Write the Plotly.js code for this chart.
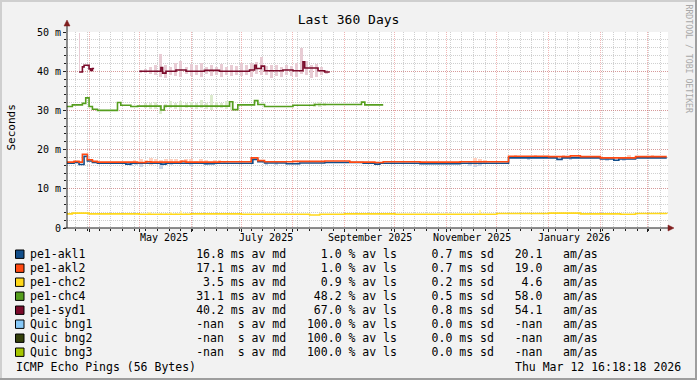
<!DOCTYPE html>
<html><head><meta charset="utf-8">
<script src="https://cdn.plot.ly/plotly-3.0.1.min.js"></script>
<style>html,body{margin:0;padding:0;background:#F2F2F2;}#chart{width:697px;height:380px;}</style>
</head><body><div id="chart"></div>
<script>
// ---------------- DATA ----------------
const akl1Dates = ['2025-03-18','2025-03-23','2025-03-26','2025-03-29','2025-03-31','2025-04-03','2025-04-06','2025-04-23','2025-04-26','2025-05-14','2025-05-17','2025-06-09','2025-06-15','2025-07-08','2025-07-11','2025-07-15','2025-07-28','2025-08-05','2025-08-20','2025-09-12','2025-09-19','2025-09-22','2025-10-16','2025-11-09','2025-12-08','2026-01-06','2026-01-09','2026-02-01','2026-02-09','2026-02-12','2026-02-22','2026-03-12 16:00'];
const akl1Vals  = [16.5,16.7,16.2,18.3,17.1,16.7,16.5,16.3,16.5,16.3,16.5,16.4,16.5,17.5,16.9,16.6,16.4,16.6,16.7,16.5,16.3,16.5,16.4,16.5,17.9,17.5,17.9,17.6,17.3,17.6,17.9,17.9];

const akl2Dates = ['2025-03-18','2025-03-23','2025-03-26','2025-03-28','2025-03-31','2025-04-03','2025-04-06','2025-04-30','2025-05-05','2025-05-08','2025-05-26','2025-05-29','2025-06-18','2025-07-07','2025-07-11','2025-07-15','2025-08-01','2025-08-20','2025-09-04','2025-09-19','2025-09-24','2025-10-16','2025-11-09','2025-12-08','2026-01-01','2026-01-14','2026-01-20','2026-02-01','2026-02-22','2026-03-12 16:00'];
const akl2Vals  = [16.8,17.0,16.8,18.8,17.4,17.0,16.8,16.7,16.9,16.8,17.0,16.8,16.9,17.9,17.2,16.9,17.0,17.1,16.8,16.7,16.9,16.8,16.9,18.3,18.2,18.4,18.2,17.9,18.2,18.2];

const chc2Dates = ['2025-03-18','2025-03-22','2025-04-01','2025-05-01','2025-06-01','2025-07-01','2025-08-11','2025-08-17','2025-09-01','2025-10-01','2025-11-01','2025-12-01','2026-01-01','2026-01-20','2026-02-13','2026-02-22','2026-03-12 16:00'];
const chc2Vals  = [3.6,3.8,3.6,3.5,3.6,3.5,3.3,3.5,3.6,3.5,3.5,3.7,3.8,3.6,3.5,3.7,3.6];

const chc4Dates = ['2025-03-18','2025-03-22','2025-03-28','2025-03-30','2025-04-01','2025-04-03','2025-04-06','2025-04-18','2025-04-20','2025-04-26','2025-04-30','2025-05-14','2025-05-16','2025-06-24','2025-06-26','2025-06-29','2025-07-09','2025-07-11','2025-07-15','2025-08-01','2025-08-14','2025-09-11','2025-09-13','2025-09-24'];
const chc4Vals  = [31.0,31.4,31.8,33.2,31.0,30.3,30.0,32.0,31.3,31.0,31.1,30.1,31.1,32.2,30.2,31.4,32.5,31.5,31.0,31.3,31.5,32.1,31.4,31.4];

const syd1Dates = ['2025-03-26','2025-03-28','2025-03-29','2025-04-01','2025-04-02','2025-04-03','2025-04-04','2025-04-15','2025-05-01','2025-05-14','2025-05-15','2025-05-17','2025-05-23','2025-05-29','2025-06-09','2025-06-18','2025-07-06','2025-07-09','2025-07-10','2025-07-13','2025-07-15','2025-07-26','2025-08-01','2025-08-07','2025-08-08','2025-08-16','2025-08-20','2025-08-23'];
const syd1Vals  = [39.8,41.1,41.5,40.6,40.2,40.7,40.7,null,40.0,40.9,39.5,40.0,40.3,40.0,40.2,40.0,40.3,41.5,40.7,41.3,40.1,40.3,40.1,42.4,40.8,40.1,39.8,39.8];

// smoke (spread) ranges
const syd1SmokeDates = ['2025-05-02','2025-05-05','2025-05-08','2025-05-11','2025-05-14','2025-05-17','2025-05-20','2025-05-23','2025-05-26','2025-05-29','2025-06-01','2025-06-04','2025-06-07','2025-06-10','2025-06-13','2025-06-16','2025-06-19','2025-06-22','2025-06-25','2025-06-28','2025-07-01','2025-07-04','2025-07-07','2025-07-10','2025-07-13','2025-07-16','2025-07-19','2025-07-22','2025-07-25','2025-07-28','2025-07-31','2025-08-03','2025-08-06','2025-08-09','2025-08-12','2025-08-15','2025-08-18','2025-08-21'];
const syd1SmokeLo = [39.6,39.5,39.2,39.0,38.6,38.3,39.0,38.8,38.5,39.2,38.8,39.0,38.5,39.2,38.8,39.0,38.6,39.1,38.7,39.0,38.8,39.0,38.6,39.4,39.0,39.0,38.3,38.9,38.5,39.0,38.8,38.4,39.2,39.0,38.2,38.6,39.0,39.4];
const syd1SmokeHi = [40.4,40.6,41.0,41.5,44.4,41.5,41.2,42.0,42.5,41.0,41.8,41.5,42.0,41.0,41.6,41.2,41.8,41.0,41.5,41.3,42.2,41.5,42.0,42.4,43.5,41.4,41.6,41.5,41.2,41.6,41.3,42.0,45.8,42.5,41.5,41.8,41.2,40.4];
const syd1SpikeDates = ['2025-03-26'];
const syd1SpikeLo = [39.8];
const syd1SpikeHi = [49.7];

const chc4SmokeDates = ['2025-05-05','2025-05-08','2025-05-11','2025-05-14','2025-05-17','2025-05-20','2025-05-23','2025-05-26','2025-05-29','2025-06-01','2025-06-04','2025-06-07','2025-06-10','2025-06-13','2025-06-16','2025-06-19','2025-06-22','2025-06-25','2025-08-14','2025-08-17','2025-08-20'];
const chc4SmokeLo = [30.5,30.3,30.4,29.0,30.5,30.6,30.4,30.2,30.6,30.5,30.3,30.6,30.4,30.2,30.5,30.6,30.4,30.0,30.9,30.8,31.0];
const chc4SmokeHi = [31.8,32.0,32.2,31.5,31.7,32.4,32.0,32.5,31.8,32.2,31.9,32.6,32.0,34.0,32.2,31.8,32.3,32.5,32.0,32.2,31.9];

const akl1SmokeDates = ['2025-04-26','2025-04-29','2025-05-02','2025-05-08','2025-05-14','2025-05-20','2025-06-01','2025-06-10','2025-07-16','2025-07-22','2025-11-15','2025-11-18','2025-11-21','2025-12-20','2026-01-14','2026-02-05','2026-02-15'];
const akl1SmokeLo = [15.9,16.0,15.6,16.0,15.1,16.0,15.8,16.0,16.0,16.1,15.8,15.6,15.9,17.3,17.3,17.0,17.0];
const akl1SmokeHi = [16.9,16.8,17.0,16.9,17.1,16.9,16.9,16.8,17.0,16.9,17.0,17.2,17.0,18.2,18.2,18.0,18.0];

const akl2SmokeDates = ['2025-04-28','2025-05-02','2025-05-05','2025-05-08','2025-05-11','2025-05-14','2025-05-17','2025-05-20','2025-05-23','2025-05-26','2025-05-29','2025-06-01','2025-06-04','2025-06-07','2025-06-10','2025-06-15','2025-06-18','2025-06-21','2025-11-18','2025-11-21','2025-11-24','2025-12-12','2025-12-24','2026-01-10','2026-02-18','2026-03-04'];
const akl2SmokeLo = [16.4,16.3,16.5,16.2,16.4,16.3,16.2,16.5,16.4,16.3,16.5,16.3,16.5,16.4,16.5,16.6,16.5,16.6,16.2,16.4,16.5,17.8,17.8,17.9,17.6,17.8];
const akl2SmokeHi = [17.4,17.6,17.3,17.8,17.6,17.4,17.7,17.5,17.6,17.3,17.5,17.6,17.2,17.5,17.3,17.3,17.4,17.2,17.8,17.6,17.3,18.6,18.7,18.6,18.5,18.5];

const chc2SmokeDates = ['2025-05-07','2025-05-14','2025-05-17','2025-05-20','2025-05-23','2025-05-26','2025-05-29','2025-11-21'];
const chc2SmokeLo = [3.2,3.2,3.3,3.2,3.3,3.2,3.3,3.3];
const chc2SmokeHi = [4.0,3.9,3.8,4.1,3.8,4.3,3.9,4.6];

// axis labels
const yTickVals = [0,10,20,30,40,50];
const yTickText = ['0','10 m','20 m','30 m','40 m','50 m'];
const monthLabelDates = ['2025-05-16','2025-07-16','2025-09-16','2025-11-16','2026-01-16'];
const monthLabels = ['May 2025','July 2025','September 2025','November 2025','January 2026'];

// legend table
const legendNames  = ['pe1-akl1','pe1-akl2','pe1-chc2','pe1-chc4','pe1-syd1','Quic bng1','Quic bng2','Quic bng3'];
const legendColors = ['#124E8A','#FF4A12','#FFD81A','#559E1E','#7A0A2A','#86C8F8','#34400A','#A6C600'];
const legendMedian = ['16.8','17.1','3.5','31.1','40.2','-nan','-nan','-nan'];
const legendUnit   = ['ms','ms','ms','ms','ms','s','s','s'];
const legendLoss   = ['1.0','1.0','0.9','48.2','67.0','100.0','100.0','100.0'];
const legendSd     = ['0.7','0.7','0.2','0.5','0.8','0.0','0.0','0.0'];
const legendAmas   = ['20.1','19.0','4.6','58.0','54.1','-nan','-nan','-nan'];

// ---------------- STYLE / LAYOUT ----------------
const FONT = '"DejaVu Sans Mono", monospace';
const L = 67, R = 668, T = 32, B = 228;
const px = x => (x - L) / (R - L);
const py = y => (B - y) / (B - T);
const DAY = 86400000;

const smokeColors = {akl1:'#C9D5E6', akl2:'#FFD3C2', chc2:'#FFF2B0', chc4:'#DDEBCF', syd1:'#E8CCD4'};

function smoke(dates, lo, hi, color, wDays) {
  return {type:'bar', x:dates, base:lo, y:hi.map((h,i)=>h-lo[i]), width:wDays*DAY,
    marker:{color:color, line:{width:0}}, hoverinfo:'skip', showlegend:false};
}
function line(dates, vals, color) {
  return {type:'scatter', mode:'lines', x:dates, y:vals, connectgaps:false,
    line:{color:color, width:1.6, shape:'hv'}, hoverinfo:'skip', showlegend:false};
}

const traces = [
  smoke(syd1SmokeDates, syd1SmokeLo, syd1SmokeHi, smokeColors.syd1, 1.8),
  smoke(syd1SpikeDates, syd1SpikeLo, syd1SpikeHi, smokeColors.syd1, 0.6),
  smoke(chc4SmokeDates, chc4SmokeLo, chc4SmokeHi, smokeColors.chc4, 1.8),
  smoke(akl1SmokeDates, akl1SmokeLo, akl1SmokeHi, smokeColors.akl1, 2.0),
  smoke(akl2SmokeDates, akl2SmokeLo, akl2SmokeHi, smokeColors.akl2, 2.0),
  smoke(chc2SmokeDates, chc2SmokeLo, chc2SmokeHi, smokeColors.chc2, 1.6),
  line(chc2Dates, chc2Vals, legendColors[2]),
  line(chc4Dates, chc4Vals, legendColors[3]),
  line(syd1Dates, syd1Vals, legendColors[4]),
  line(akl1Dates, akl1Vals, legendColors[0]),
  line(akl2Dates, akl2Vals, legendColors[1])
];

const GRID = 'rgba(143,143,143,0.42)';
const MGRID = 'rgba(222,79,79,0.42)';
const AXIS = '#1F1F1F';
const ARROW = '#801F1F';

const shapes = [];
shapes.push({type:'line', xref:'paper', yref:'paper', x0:px(67), x1:px(67), y0:py(228), y1:py(25), line:{color:AXIS, width:1}});
shapes.push({type:'line', xref:'paper', yref:'paper', x0:px(64), x1:px(670), y0:py(228), y1:py(228), line:{color:AXIS, width:1}});
shapes.push({type:'path', xref:'paper', yref:'paper', path:`M ${px(64)} ${py(26)} L ${px(70)} ${py(26)} L ${px(67)} ${py(20)} Z`, fillcolor:ARROW, line:{color:ARROW, width:0.5}});
shapes.push({type:'path', xref:'paper', yref:'paper', path:`M ${px(668)} ${py(225)} L ${px(668)} ${py(231)} L ${px(674)} ${py(228)} Z`, fillcolor:ARROW, line:{color:ARROW, width:0.5}});
shapes.push({type:'rect', xref:'paper', yref:'paper', x0:px(0), x1:px(697), y0:py(0), y1:py(2), fillcolor:'#CFCFCF', line:{width:0}});
shapes.push({type:'rect', xref:'paper', yref:'paper', x0:px(0), x1:px(2), y0:py(0), y1:py(380), fillcolor:'#CFCFCF', line:{width:0}});
shapes.push({type:'rect', xref:'paper', yref:'paper', x0:px(0), x1:px(697), y0:py(378), y1:py(380), fillcolor:'#9E9E9E', line:{width:0}});
shapes.push({type:'rect', xref:'paper', yref:'paper', x0:px(695), x1:px(697), y0:py(0), y1:py(380), fillcolor:'#9E9E9E', line:{width:0}});

const annotations = [];
monthLabelDates.forEach((d,i) => annotations.push({xref:'x', yref:'paper', x:d, y:py(237.5), text:monthLabels[i],
  showarrow:false, xanchor:'center', yanchor:'middle', font:{family:FONT, size:10, color:'#000'}}));
annotations.push({xref:'paper', yref:'paper', x:px(10.5), y:py(128), text:'Seconds', textangle:-90, showarrow:false,
  xanchor:'center', yanchor:'middle', font:{family:FONT, size:11, color:'#000'}});
annotations.push({xref:'paper', yref:'paper', x:px(688.5), y:py(59), text:'RRDTOOL / TOBI OETIKER', textangle:90, showarrow:false,
  xanchor:'center', yanchor:'middle', font:{family:FONT, size:8.2, color:'#A8A8A8'}});

const nb = s => s.replace(/ /g, '\u00A0');
legendNames.forEach((n,i) => {
  const rowY = 254.2 + 14.0*i;
  const row = n.padEnd(24) + legendMedian[i].padStart(4) + ' ' + legendUnit[i].padStart(2) + ' av md' +
    legendLoss[i].padStart(8) + ' % av ls' + legendSd[i].padStart(8) + ' ms sd' + legendAmas[i].padStart(7) + '   am/as';
  annotations.push({xref:'paper', yref:'paper', x:px(28), y:py(rowY), text:nb(row), showarrow:false,
    xanchor:'left', yanchor:'middle', font:{family:FONT, size:11.5, color:'#000'}});
  shapes.push({type:'rect', xref:'paper', yref:'paper', x0:px(15.5), x1:px(24), y0:py(rowY-4.2), y1:py(rowY+4.2),
    fillcolor:legendColors[i], line:{color:'#000', width:1}});
});
annotations.push({xref:'paper', yref:'paper', x:px(14), y:py(366.6), text:nb('ICMP Echo Pings (56 Bytes)'), showarrow:false,
  xanchor:'left', yanchor:'middle', font:{family:FONT, size:11.5, color:'#000'}});
annotations.push({xref:'paper', yref:'paper', x:px(683), y:py(366.6), text:nb('Thu Mar 12 16:18:18 2026'), showarrow:false,
  xanchor:'right', yanchor:'middle', font:{family:FONT, size:11.5, color:'#000'}});

const layout = {
  width:697, height:380, margin:{l:L, r:697-R, t:T, b:380-B, pad:0},
  paper_bgcolor:'#F2F2F2', plot_bgcolor:'#FFFFFF',
  font:{family:FONT, size:10, color:'#000'},
  title:{text:'Last 360 Days', font:{family:FONT, size:13, color:'#000'}, xref:'container', x:0.5, xanchor:'center',
    yref:'container', y:1-19/380, yanchor:'middle'},
  barmode:'overlay', bargap:0, showlegend:false, hovermode:false,
  xaxis:{type:'date', range:['2025-03-18 19:00','2026-03-13 10:00'], tickmode:'linear', tick0:'2025-04-01', dtick:'M1',
    showticklabels:false, ticks:'outside', ticklen:3, tickcolor:AXIS, showgrid:true, gridcolor:MGRID, griddash:'1px,1px', gridwidth:1,
    zeroline:false, showline:false, fixedrange:true,
    minor:{tick0:'2025-03-24', dtick:7*DAY, showgrid:true, gridcolor:GRID, griddash:'1px,1px', gridwidth:1, ticks:'outside', ticklen:2, tickcolor:AXIS}},
  yaxis:{range:[0,50], tickmode:'array', tickvals:yTickVals, ticktext:yTickText, ticks:'outside', ticklen:3, tickcolor:AXIS,
    showgrid:true, gridcolor:MGRID, griddash:'1px,1px', gridwidth:1, zeroline:false, showline:false, fixedrange:true,
    tickfont:{family:FONT, size:10, color:'#000'},
    minor:{dtick:2, showgrid:true, gridcolor:GRID, griddash:'1px,1px', gridwidth:1, ticks:'outside', ticklen:2, tickcolor:AXIS}},
  shapes:shapes, annotations:annotations
};

Plotly.newPlot('chart', traces, layout, {staticPlot:true, displayModeBar:false});
</script>
</body></html>
